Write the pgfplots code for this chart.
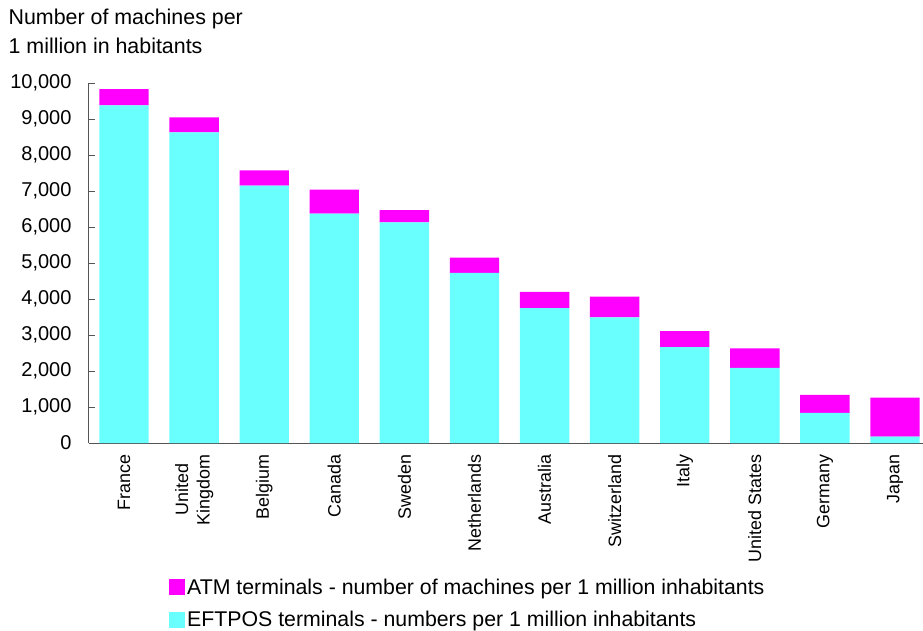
\documentclass[border=0pt]{standalone}
\usepackage{fontspec}
\setmainfont{Liberation Sans}
\usepackage{pgfplots}
\pgfplotsset{compat=1.18}

\definecolor{atm}{RGB}{255,0,255}
\definecolor{eft}{RGB}{106,255,255}
\definecolor{axisgray}{RGB}{85,85,85}

% Terminals per 1 million inhabitants
\pgfplotstableread{
idx eftpos atm
0   9380   450
1   8630   415
2   7150   425
3   6370   665
4   6130   340
5   4725   425
6   3750   445
7   3490   575
8   2665   445
9   2085   545
10  840    500
11  175    1085
}\terminals

\begin{document}
\begin{tikzpicture}[x=1pt,y=1pt]
\useasboundingbox (0,0) rectangle (923,630);
\begin{axis}[
  at={(89pt,187pt)}, anchor=south west,
  scale only axis, width=834pt, height=360pt,
  xmin=-0.5, xmax=11.4, ymin=0, ymax=10000,
  ybar stacked, bar width=49.4pt,
  axis x line=bottom, axis y line=left,
  axis line style={axisgray, -, line width=1pt},
  xtick={0,...,11},
  xticklabels={France,{United\\Kingdom},Belgium,Canada,Sweden,Netherlands,Australia,Switzerland,Italy,United States,Germany,Japan},
  x tick label style={rotate=90, anchor=east, align=center, xshift=-8pt,
    font=\fontsize{17.9}{21.5}\selectfont},
  x tick style={draw=none},
  ytick={0,1000,...,10000},
  scaled y ticks=false,
  y tick style={axisgray, line width=1pt},
  tick align=inside, major tick length=6pt,
  /pgf/number format/assume math mode=true,
  /pgf/number format/1000 sep={,},
  y tick label style={font=\fontsize{20}{23}\selectfont, xshift=-14pt},
  reverse legend,
  legend cell align=left,
  legend style={at={(axis description cs:0.0923,-0.365)}, anchor=north west,
    draw=none, fill=none, font=\fontsize{21.3}{25}\selectfont,
    row sep=12pt, nodes={inner sep=2pt}},
]
\addplot[fill=eft, draw=none,
  legend image code/.code={\fill[eft] (0pt,-8pt) rectangle (16pt,8pt);}]
  table[x=idx, y=eftpos] {\terminals};
\addlegendentry{EFTPOS terminals - numbers per 1 million inhabitants}
\addplot[fill=atm, draw=none,
  legend image code/.code={\fill[atm] (0pt,-8pt) rectangle (16pt,8pt);}]
  table[x=idx, y=atm] {\terminals};
\addlegendentry{ATM terminals - number of machines per 1 million inhabitants}
\end{axis}
\node[anchor=base west, inner sep=0, font=\fontsize{21.4}{28}\selectfont] at (8.4,605) {Number of machines per};
\node[anchor=base west, inner sep=0, font=\fontsize{21.4}{28}\selectfont] at (8.4,576.7) {1 million in habitants};
\end{tikzpicture}
\end{document}
